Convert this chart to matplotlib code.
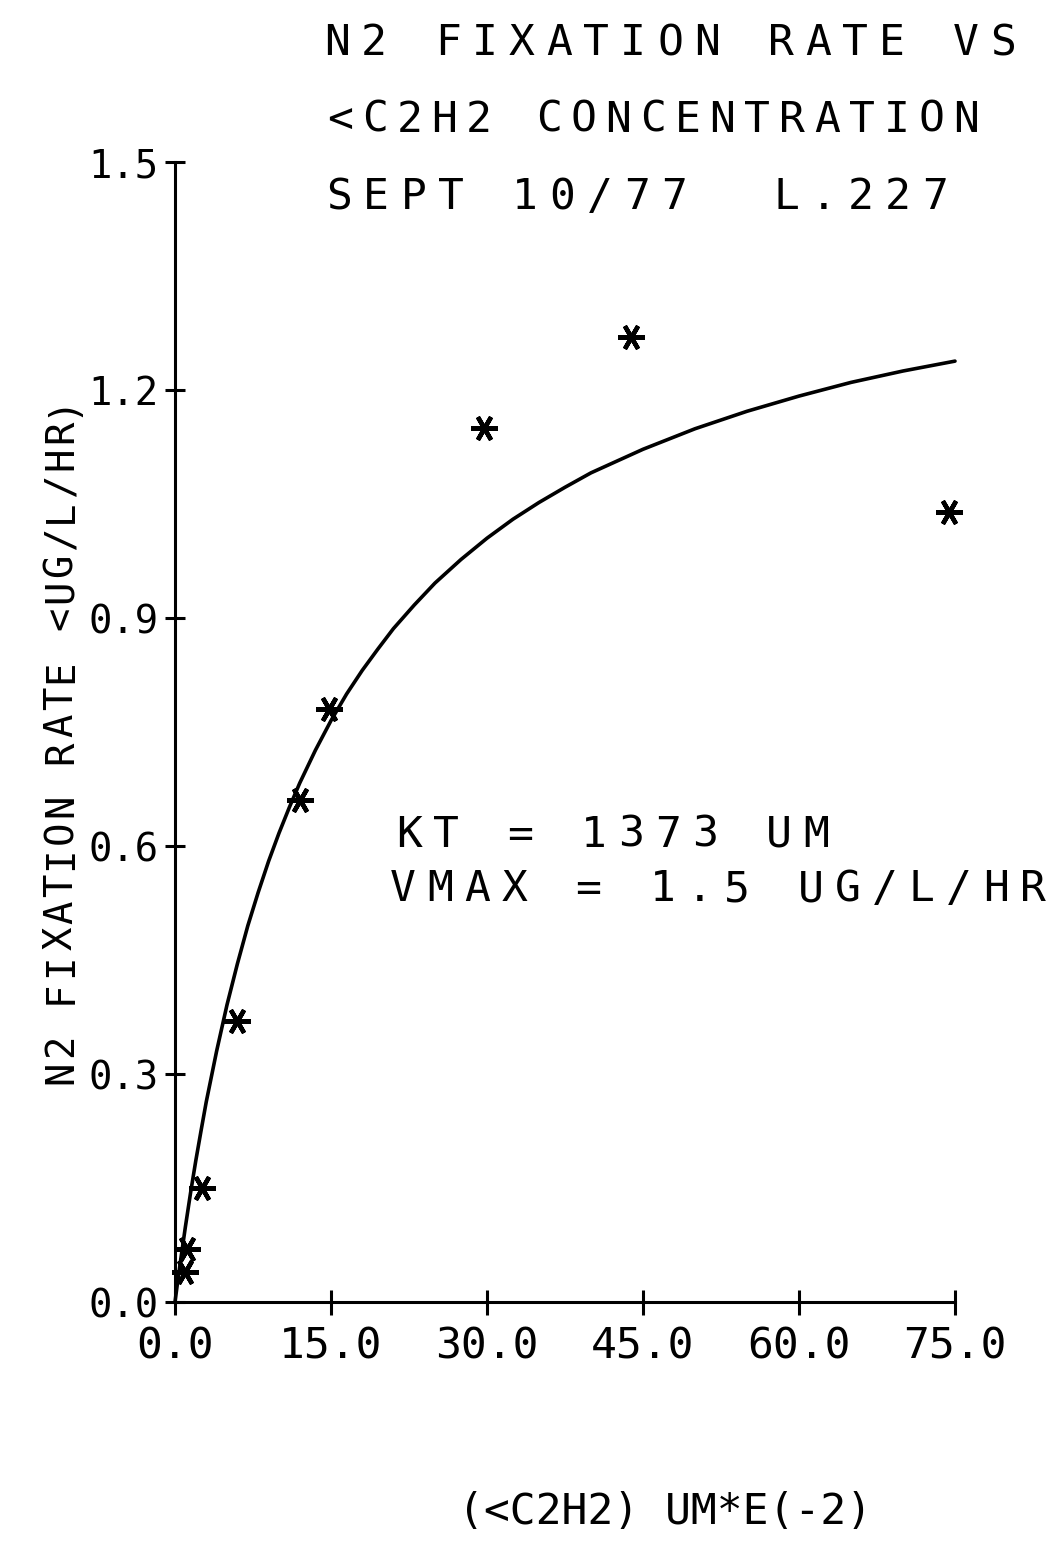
import matplotlib
matplotlib.use("Agg")
import matplotlib.pyplot as plt

# ---- measured data: acetylene concentration vs N2 fixation rate ----
conc = [1.0, 1.2, 2.6, 6.0, 12.0, 14.8, 29.7, 43.8, 74.4]
rate = [0.04, 0.07, 0.15, 0.37, 0.66, 0.78, 1.15, 1.27, 1.04]

# ---- fitted saturation curve ----
fit_conc = [0, 0.25, 0.5, 1, 1.5, 2, 2.5, 3, 4, 5, 6, 7, 8, 9, 10, 11, 12,
            13.5, 15, 16.5, 18, 19.5, 21, 23, 25, 27.5, 30, 32.5, 35, 37.5,
            40, 45, 50, 55, 60, 65, 70, 75]
fit_rate = [0.0, 0.026, 0.051, 0.099, 0.144, 0.186, 0.225, 0.263, 0.330,
            0.391, 0.445, 0.495, 0.539, 0.580, 0.617, 0.651, 0.683, 0.726,
            0.765, 0.800, 0.831, 0.859, 0.886, 0.917, 0.946, 0.977, 1.005,
            1.030, 1.052, 1.072, 1.091, 1.122, 1.149, 1.172, 1.192, 1.210,
            1.225, 1.238]

x_ticks = [0, 15, 30, 45, 60, 75]
x_tick_labels = ["0.0", "15.0", "30.0", "45.0", "60.0", "75.0"]
y_ticks = [0.0, 0.3, 0.6, 0.9, 1.2, 1.5]
y_tick_labels = ["0.0", "0.3", "0.6", "0.9", "1.2", "1.5"]

title_lines = ["N2 FIXATION RATE VS", "<C2H2 CONCENTRATION", "SEPT 10/77  L.227"]
fit_lines = ["KT = 1373 UM", "VMAX = 1.5 UG/L/HR"]
y_label = "N2 FIXATION RATE <UG/L/HR)"
x_label = "(<C2H2) UM*E(-2)"

FONT = "DejaVu Sans Mono"
W, H = 1053, 1541


def fig_xy(x, y):
    """Pixel position (from top-left) to figure fraction."""
    return x / W, 1 - y / H


def pen_text(fig, s, first, last, base, size, vertical=False):
    """Write a string one character per fixed pitch, like a pen plotter."""
    pitch = (last - first) / (len(s) - 1)
    for i, ch in enumerate(s):
        if ch == " ":
            continue
        pos = first + i * pitch
        if vertical:
            fig.text(*fig_xy(base, pos), ch, rotation=90, rotation_mode="anchor",
                     ha="center", va="baseline", fontsize=size, family=FONT)
        else:
            fig.text(*fig_xy(pos, base), ch, ha="center", va="baseline",
                     fontsize=size, family=FONT)


fig = plt.figure(figsize=(W / 100, H / 100), dpi=100)
ax = fig.add_axes([175 / W, 1 - 1302 / H, 780 / W, 1140 / H])

ax.plot(fit_conc, fit_rate, color="black", lw=2.6,
        solid_capstyle="round", solid_joinstyle="round", clip_on=False)
ax.plot(conc, rate, linestyle="none", marker=(6, 2, 90), ms=19, mew=3.2,
        color="black", clip_on=False)

ax.set_xlim(0, 75)
ax.set_ylim(0, 1.5)
for side in ("top", "right"):
    ax.spines[side].set_visible(False)
for side in ("left", "bottom"):
    ax.spines[side].set_linewidth(2.2)

ax.set_xticks(x_ticks)
ax.set_xticklabels(x_tick_labels, family=FONT, fontsize=31)
ax.set_yticks(y_ticks)
ax.set_yticklabels(y_tick_labels, family=FONT, fontsize=28)
ax.tick_params(axis="x", direction="inout", length=18, width=2.2, pad=8)
ax.tick_params(axis="y", direction="inout", length=14, width=2.2, pad=5)

# title block
pen_text(fig, title_lines[0], 337, 1003, 55, 31)
pen_text(fig, title_lines[1], 340, 966, 132, 31)
pen_text(fig, title_lines[2], 339, 935, 209, 31)

# fit parameters
pen_text(fig, fit_lines[0], 409, 816, 847, 31)
pen_text(fig, fit_lines[1], 403, 1033, 901, 31)

# axis titles
pen_text(fig, y_label, 1072, 405, 72, 28, vertical=True)
fig.text(*fig_xy(665, 1512), x_label, ha="center", va="center",
         fontsize=31, family=FONT)

fig.savefig("out.png", dpi=100)
